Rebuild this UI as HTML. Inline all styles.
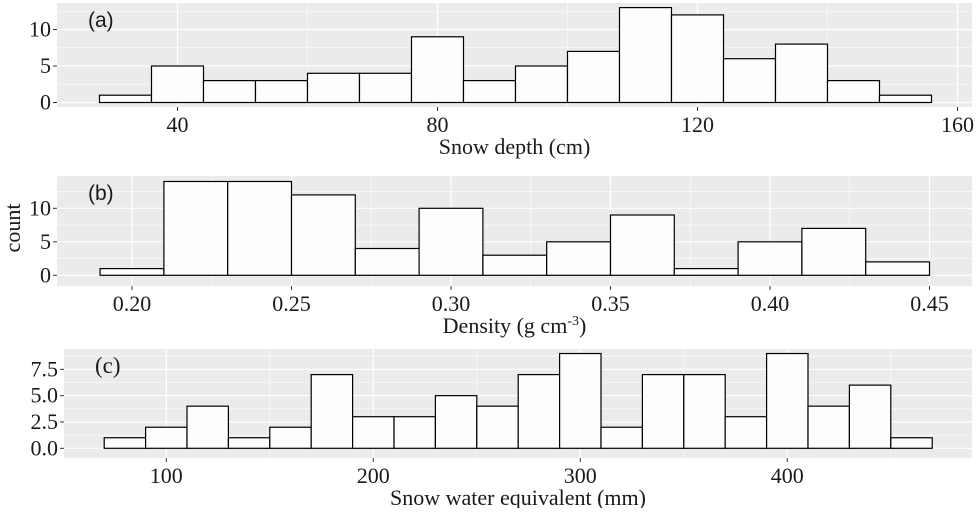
<!DOCTYPE html>
<html><head><meta charset="utf-8"><style>
body{margin:0;background:#fff;}
svg text{font-family:"Liberation Serif",serif;fill:#1a1a1a;}
svg text.sans{font-family:"Liberation Sans",sans-serif;}
</style></head><body>
<svg id="chart" width="977" height="508" xmlns="http://www.w3.org/2000/svg"></svg>
<script>
const depthStart = 28, depthWidth = 8;
const depthCounts = [1,5,3,3,4,4,9,3,5,7,13,12,6,8,3,1];
const depthXTicks = [40,80,120,160];
const depthYTicks = [0,5,10];

const densStart = 0.19, densWidth = 0.02;
const densCounts = [1,14,14,12,4,10,3,5,9,1,5,7,2];
const densXTicks = [0.20,0.25,0.30,0.35,0.40,0.45];
const densYTicks = [0,5,10];

const sweStart = 70, sweWidth = 20;
const sweCounts = [1,2,4,1,2,7,3,3,5,4,7,9,2,7,7,3,9,4,6,1];
const sweXTicks = [100,200,300,400];
const sweYTicks = [0,2.5,5.0,7.5];

const NS = "http://www.w3.org/2000/svg";
const svg = document.getElementById('chart');
function mk(tag, attrs, parent){const e=document.createElementNS(NS,tag);for(const k in attrs)e.setAttribute(k,attrs[k]);(parent||svg).appendChild(e);return e;}

function panel(o){
  const g = mk('g',{});
  
  
  const sx = v => o.px0 + (v - o.xv0) * o.xs;
  const sy = v => o.py0 - v * o.ys;
  const bg = mk('rect',{x:o.L,y:o.T,width:o.R-o.L,height:o.B-o.T,fill:'#ebebeb'},g);
  
  
  const yStep = o.yticks[1]-o.yticks[0];
  for (let v=o.yticks[0]-yStep/2; ; v+=yStep){const y=sy(v); if(y<o.T) break; if(y<=o.B) mk('line',{x1:o.L,x2:o.R,y1:y,y2:y,stroke:'#fff','stroke-width':0.6},g);}
  const xStep = o.xticks[1]-o.xticks[0];
  for (let v=o.xticks[0]-xStep*1.5; ; v+=xStep){const x=sx(v); if(x>o.R) break; if(x>=o.L) mk('line',{x1:x,x2:x,y1:o.T,y2:o.B,stroke:'#fff','stroke-width':0.6},g);}
  o.yticks.forEach(v=>{const y=sy(v);
    mk('line',{x1:o.L,x2:o.R,y1:y,y2:y,stroke:'#fff','stroke-width':1.2},g);
    mk('line',{x1:o.L-4,x2:o.L,y1:y,y2:y,stroke:'#333','stroke-width':1},g);
    const t=mk('text',{x:o.L-6,y:y+7,'text-anchor':'end','font-size':22},g);t.textContent=o.yfmt(v);
    
    
  });
  o.xticks.forEach(v=>{const x=sx(v);
    mk('line',{x1:x,x2:x,y1:o.T,y2:o.B,stroke:'#fff','stroke-width':1.2},g);
    mk('line',{x1:x,x2:x,y1:o.B,y2:o.B+4,stroke:'#333','stroke-width':1},g);
    const t=mk('text',{x:x,y:o.B+25,'text-anchor':'middle','font-size':22},g);t.textContent=o.xfmt(v);
    
    
  });
  o.counts.forEach((c,i)=>{
    const x0=sx(o.start+i*o.width), x1=sx(o.start+(i+1)*o.width);
    const r=mk('rect',{x:x0,y:sy(c),width:x1-x0,height:sy(0)-sy(c),fill:'#fdfdfd',stroke:'#000','stroke-width':1.2},g);
    
    
  });
  const lab=mk('text',{x:o.L+31,y:o.T+24,'font-size':o.labSize,class:o.labClass},g);lab.textContent=o.label;
  
  
  const xt=mk('text',{x:(o.L+o.R)/2,y:o.B+47,'text-anchor':'middle','font-size':22},g);xt.innerHTML=o.xtitle;
  
  
}

panel({name:'panel-snow-depth',L:57,R:972,T:3,B:107,px0:177.5,xv0:40,xs:6.5,py0:102.5,ys:7.3,
  counts:depthCounts,start:depthStart,width:depthWidth,xticks:depthXTicks,yticks:depthYTicks,
  xfmt:v=>String(v),yfmt:v=>String(v),label:'(a)',labClass:'sans',labSize:21,xtitle:'Snow depth (cm)'});
panel({name:'panel-density',L:57,R:972,T:176,B:286,px0:132,xv0:0.20,xs:3190,py0:275.3,ys:6.7,
  counts:densCounts,start:densStart,width:densWidth,xticks:densXTicks,yticks:densYTicks,
  xfmt:v=>v.toFixed(2),yfmt:v=>String(v),label:'(b)',labClass:'sans',labSize:21,xtitle:'Density (g cm<tspan font-size="14" dy="-8">-3</tspan><tspan dy="8">)</tspan>'});
panel({name:'panel-swe',L:64,R:972,T:349,B:458,px0:166.3,xv0:100,xs:2.07,py0:448.3,ys:10.53,
  counts:sweCounts,start:sweStart,width:sweWidth,xticks:sweXTicks,yticks:sweYTicks,
  xfmt:v=>String(v),yfmt:v=>v.toFixed(1),label:'(c)',labClass:'',labSize:23,xtitle:'Snow water equivalent (mm)'});

const yl=mk('text',{x:0,y:0,'text-anchor':'middle','font-size':22,transform:'translate(20,228) rotate(-90)'});
yl.textContent='count';


</script>
</body></html>
